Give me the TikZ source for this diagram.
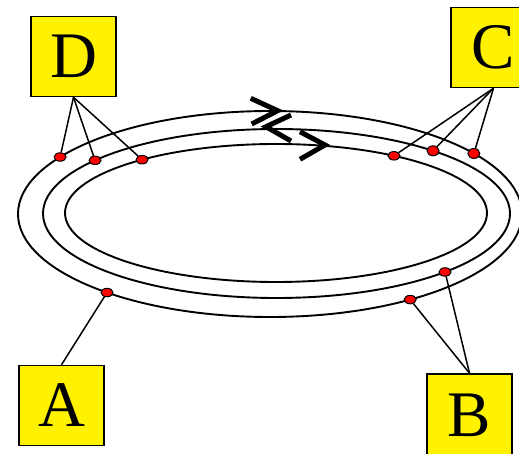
\documentclass[tikz,border=0pt]{standalone}
\usepackage{fontspec}
\setmainfont{Liberation Serif}
\usetikzlibrary{shapes.geometric}

\begin{document}
\begin{tikzpicture}[x=1pt, y=-1pt,
  ring/.style={draw=black, line width=1.9pt},
  letterbox/.style={draw=black, line width=1.5pt, fill=yellow,
                    minimum width=85pt, minimum height=80pt, inner sep=0pt,
                    font=\fontsize{65}{65}\selectfont},
  probe/.style={ellipse, draw=black, line width=1pt, fill=red,
                minimum width=12pt, minimum height=8.5pt, inner sep=0pt},
  link/.style={draw=black, line width=1.5pt},
  zig/.style={draw=black, line width=5pt, line join=miter, miter limit=10}
]
\clip (0,0) rectangle (519,454);
\coordinate (outer) at (270,214);
\coordinate (middle) at (276.5,213.5);
\coordinate (inner) at (276,213);
\draw[ring] (outer) ellipse [x radius=252, y radius=103];
\draw[ring] (middle) ellipse [x radius=233.5, y radius=84.5];
\draw[ring] (inner) ellipse [x radius=211, y radius=69];

\draw[zig] (250.7,98.3) -- (277.7,110.7) -- (251.7,124);
\draw[zig] (291,115) -- (266,126.7) -- (291,141);
\draw[zig] (300,131.7) -- (325,145) -- (300,159.3);

\node[letterbox] (D) at (73.5,56.5) {D};
\node[letterbox] (C) at (493.5,47.5) {C};
\node[letterbox] (A) at (61.5,405.5) {A};
\node[letterbox, minimum height=82pt] (B) at (469.5,415) {B};

\path (outer) ++(-146.4:252 and 103) node[probe] (d1) {};
\path (middle) ++(-141:233.5 and 84.5) node[probe] (d2) {};
\path (inner) ++(-129.4:211 and 69) node[probe] (d3) {};
\path (inner) ++(-56:211 and 69) node[probe] (c1) {};
\path (middle) ++(-47.9:233.5 and 84.5) node[probe, minimum height=10pt] (c2) {};
\path (outer) ++(-36:252 and 103) node[probe, minimum height=10pt] (c3) {};
\path (outer) ++(130.3:252 and 103) node[probe] (a1) {};
\path (middle) ++(43.8:233.5 and 84.5) node[probe] (b1) {};
\path (outer) ++(56.2:252 and 103) node[probe] (b2) {};

\draw[link] (D.south) -- (d1);
\draw[link] (D.south) -- (d2);
\draw[link] (D.south) -- (d3);
\draw[link] (C.south) -- (c1);
\draw[link] (C.south) -- (c2);
\draw[link] (C.south) -- (c3);
\draw[link] (A.north) -- (a1);
\draw[link] (B.north) -- (b1);
\draw[link] (B.north) -- (b2);
\end{tikzpicture}
\end{document}
